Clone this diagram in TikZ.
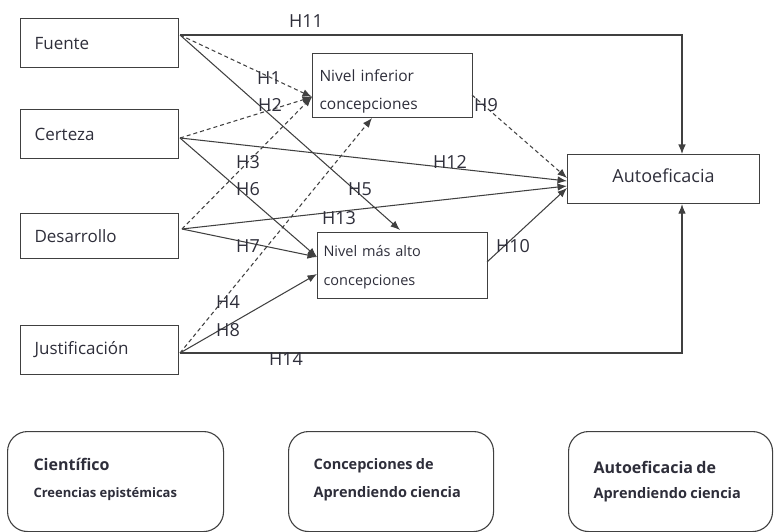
\documentclass[tikz,border=0pt]{standalone}
\usepackage{fontspec}
\setmainfont{Open Sans}
\usetikzlibrary{arrows.meta}
\definecolor{ln}{HTML}{404040}
\definecolor{tx}{HTML}{2E2E3A}
\tikzset{
  box/.style={draw=ln, line width=1.1pt, rectangle, inner ysep=0pt, text=tx},
  leftbox/.style={box, anchor=north west, align=left, inner xsep=14pt,
     font=\fontsize{17}{20}\selectfont},
  rbox/.style={draw=ln, line width=1.1pt, rounded corners=20pt, anchor=north west,
     align=left, text=tx, inner ysep=0pt},
  sol/.style={draw=ln, line width=1.05pt, -{Latex[length=9.5pt,width=7.5pt]}},
  das/.style={sol, dash pattern=on 4pt off 3pt},
  hl/.style={text=tx, font=\fontsize{18}{20}\selectfont, inner sep=0pt},
}
\begin{document}
\begin{tikzpicture}[x=1pt,y=-1pt]
\useasboundingbox (0,0) rectangle (774,532);
% left boxes
\node[leftbox, minimum width=158pt, minimum height=49pt, text width=130pt] (fu) at (20,18) {Fuente};
\node[leftbox, minimum width=158pt, minimum height=49pt, text width=130pt] (ce) at (20,109) {Certeza};
\node[leftbox, minimum width=158pt, minimum height=45pt, text width=130pt] (de) at (20,213) {Desarrollo};
\node[leftbox, minimum width=158pt, minimum height=49pt, text width=130pt] (ju) at (20,325) {Justificación};
% middle boxes
\node[box, anchor=north west, align=left, inner xsep=7pt, minimum width=160pt, minimum height=64pt,
  text width=146pt, font=\fontsize{15.5}{28}\selectfont] (ni) at (312,53) {\rule{0pt}{23pt}Nivel inferior\\concepciones};
\node[box, anchor=north west, align=left, inner xsep=6pt, minimum width=170pt, minimum height=66pt,
  text width=158pt, font=\fontsize{14.5}{29}\selectfont] (na) at (317,232) {\rule{0pt}{14pt}Nivel más alto\\concepciones};
% right box
\node[box, anchor=north west, minimum width=192pt, minimum height=49pt,
  font=\fontsize{18}{21}\selectfont] (au) at (567,154) {Autoeficacia\rule[-6pt]{0pt}{6pt}};
% connection coordinates
\coordinate (fuo) at (180,35);
\coordinate (ceo) at (180,138);
\coordinate (deo) at (182,229);
\coordinate (juo) at (180,353);
\coordinate (niL) at (312,97);
\coordinate (niB) at (372,118);
\coordinate (niR) at (472,95);
\coordinate (naT) at (400,230);
\coordinate (naL) at (317,257);
\coordinate (naL2) at (317,274);
\coordinate (naR) at (487,262);
\coordinate (auL1) at (567,178);
\coordinate (auL2) at (567,181);
\coordinate (auL3) at (567,186);
\coordinate (auL4) at (567,188);
\coordinate (c11) at (682,35);
\coordinate (c14) at (682,353);
% connectors
\draw[sol] (fuo) -- (c11) -- (au.north -| c11);
\draw[das] (fuo) -- (niL);
\draw[sol] (fuo) -- (naT);
\draw[das] (ceo) -- (niL);
\draw[sol] (ceo) -- (auL2);
\draw[sol] (ceo) -- (naL);
\draw[das] (deo) -- (niL);
\draw[sol] (deo) -- (auL3);
\draw[sol] (deo) -- (naL);
\draw[das] (juo) -- (niB);
\draw[sol] (juo) -- (naL2);
\draw[sol] (juo) -- (c14) -- (au.south -| c14);
\draw[das] (niR) -- (auL1);
\draw[sol] (naR) -- (auL4);
% labels
\node[hl] (h11) at (306,21) {H11};
\node[hl] (h1) at (269,78) {H1};
\node[hl] (h2) at (270,105) {H2};
\node[hl] (h3) at (248,162) {H3};
\node[hl] (h6) at (248,189) {H6};
\node[hl] (h5) at (360,189) {H5};
\node[hl] (h13) at (339,218) {H13};
\node[hl] (h7) at (248,246) {H7};
\node[hl] (h4) at (228,302) {H4};
\node[hl] (h8) at (228,330) {H8};
\node[hl] (h14) at (286,359) {H14};
\node[hl] (h10) at (513,246) {H10};
\node[hl] (h12) at (450,162) {H12};
\node[hl] (h9) at (486,105) {H9};
% bottom boxes
\node[rbox, minimum width=216pt, minimum height=100pt, text width=164pt, inner xsep=26pt] (b1) at (7,431)
 {\fontsize{16}{18}\selectfont\bfseries Científico\\[15pt]\fontsize{13}{14}\selectfont\bfseries Creencias epistémicas\rule[-7pt]{0pt}{0pt}};
\node[rbox, minimum width=205pt, minimum height=100pt, text width=155pt, inner xsep=25pt] (b2) at (288,431)
 {\fontsize{14.5}{17}\selectfont\bfseries Concepciones de\\[12pt]Aprendiendo ciencia\rule[-7pt]{0pt}{0pt}};
\node[rbox, minimum width=204pt, minimum height=100pt, text width=154pt, inner xsep=25pt] (b3) at (568,431)
 {\fontsize{16}{18}\selectfont\bfseries Autoeficacia de\\[13pt]\fontsize{14.5}{16}\selectfont\bfseries Aprendiendo ciencia\rule[-4pt]{0pt}{0pt}};
\end{tikzpicture}
\end{document}
